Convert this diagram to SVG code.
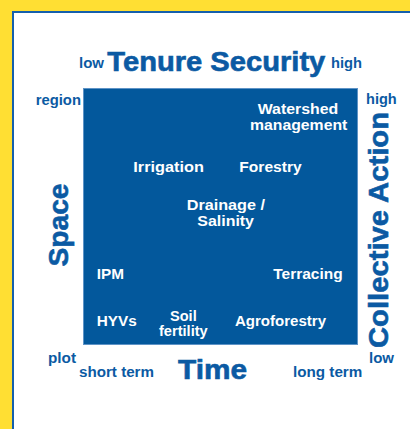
<svg xmlns="http://www.w3.org/2000/svg" width="410" height="429" viewBox="0 0 410 429">
  <style>
    text { font-family: "Liberation Sans", Arial, sans-serif; font-weight: bold; }
    .lbl { fill: #0B5AA3; font-size: 14px; }
    .title { fill: #0B5AA3; font-size: 27px; stroke: #0B5AA3; stroke-width: 0.6px; }
    .in { fill: #FFFFFF; font-size: 14.5px; }
  </style>
  <rect x="0" y="0" width="410" height="429" fill="#FFDF33"/>
  <rect x="13" y="12" width="410" height="430" fill="#FFFFFF" stroke="#1560AC" stroke-width="2"/>

  <g id="matrix">
    <rect x="83.5" y="88.5" width="274" height="256" fill="#03589C" stroke="#5E93C6" stroke-width="1"/>
  </g>

  <g id="axis-tenure">
    <text class="lbl" x="79" y="67.7" textLength="25" lengthAdjust="spacingAndGlyphs">low</text>
    <text class="title" x="107.3" y="70.5" textLength="218" lengthAdjust="spacingAndGlyphs">Tenure Security</text>
    <text class="lbl" x="331" y="67.7" textLength="31" lengthAdjust="spacingAndGlyphs">high</text>
  </g>

  <g id="axis-space">
    <text class="lbl" x="35.7" y="104.5" textLength="45.3" lengthAdjust="spacingAndGlyphs">region</text>
    <text class="title" transform="translate(68,225) rotate(-90)" x="0" y="0" text-anchor="middle" textLength="83" lengthAdjust="spacingAndGlyphs">Space</text>
    <text class="lbl" x="48" y="363.3" textLength="28" lengthAdjust="spacingAndGlyphs">plot</text>
  </g>

  <g id="axis-collective">
    <text class="lbl" x="366" y="104" textLength="30.7" lengthAdjust="spacingAndGlyphs">high</text>
    <text class="title" transform="translate(388,230) rotate(-90)" x="0" y="0" text-anchor="middle" textLength="236" lengthAdjust="spacingAndGlyphs">Collective Action</text>
    <text class="lbl" x="369" y="363" textLength="25" lengthAdjust="spacingAndGlyphs">low</text>
  </g>

  <g id="axis-time">
    <text class="lbl" x="79" y="376.7" textLength="75" lengthAdjust="spacingAndGlyphs">short term</text>
    <text class="title" x="178" y="379.3" textLength="69" lengthAdjust="spacingAndGlyphs">Time</text>
    <text class="lbl" x="293" y="376.7" textLength="69.3" lengthAdjust="spacingAndGlyphs">long term</text>
  </g>

  <g id="watershed">
    <text class="in" x="257.7" y="114.3" textLength="80.6" lengthAdjust="spacingAndGlyphs">Watershed</text>
    <text class="in" x="250" y="130" textLength="97.3" lengthAdjust="spacingAndGlyphs">management</text>
  </g>
  <g id="irrigation">
    <text class="in" x="133.3" y="171.7" textLength="70.7" lengthAdjust="spacingAndGlyphs">Irrigation</text>
  </g>
  <g id="forestry">
    <text class="in" x="239.3" y="171.7" textLength="62.4" lengthAdjust="spacingAndGlyphs">Forestry</text>
  </g>
  <g id="drainage">
    <text class="in" x="186.7" y="210" textLength="78.3" lengthAdjust="spacingAndGlyphs">Drainage /</text>
    <text class="in" x="197.3" y="226" textLength="56.7" lengthAdjust="spacingAndGlyphs">Salinity</text>
  </g>
  <g id="ipm">
    <text class="in" x="96.7" y="279.3" textLength="27.3" lengthAdjust="spacingAndGlyphs">IPM</text>
  </g>
  <g id="terracing">
    <text class="in" x="273.3" y="279.3" textLength="69.4" lengthAdjust="spacingAndGlyphs">Terracing</text>
  </g>
  <g id="hyvs">
    <text class="in" x="96.7" y="326" textLength="40" lengthAdjust="spacingAndGlyphs">HYVs</text>
  </g>
  <g id="soil-fertility">
    <text class="in" x="170" y="320.5" textLength="26.7" lengthAdjust="spacingAndGlyphs">Soil</text>
    <text class="in" x="159" y="335.5" textLength="48.7" lengthAdjust="spacingAndGlyphs">fertility</text>
  </g>
  <g id="agroforestry">
    <text class="in" x="235" y="326" textLength="91" lengthAdjust="spacingAndGlyphs">Agroforestry</text>
  </g>
  <g id="connectors"></g>
</svg>
